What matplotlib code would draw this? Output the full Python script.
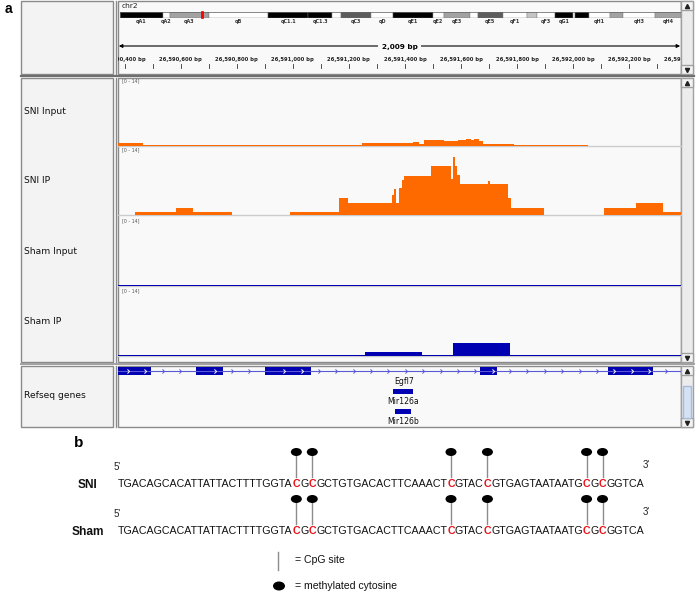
import numpy as np
import matplotlib
matplotlib.use('Agg')
import matplotlib.pyplot as plt
from matplotlib.patches import Rectangle, Ellipse
from matplotlib.path import Path
from matplotlib.font_manager import FontProperties, findfont, get_font
from matplotlib import _text_helpers

W, H = 696, 594

# ======================= DATA =======================
chrom_name = 'chr2'
view_start = 26590376
view_end = 26592385
data_range = (0, 14)

# cytoband ideogram of mouse chr2 (Mb)
chrom_length_mb = 182.1
locus_mb = 26.59
band_names = ['qA1', 'qA2', 'qA3', 'qB', 'qC1.1', 'qC1.3', 'qC2', 'qC3', 'qD', 'qE1',
              'qE2', 'qE3', 'qE4', 'qE5', 'qF1', 'qF2', 'qF3', 'qG1', 'qG2', 'qG3',
              'qH1', 'qH2', 'qH3', 'qH4']
band_starts = [0, 13.9, 16.2, 28.8, 48.2, 61.0, 68.9, 71.8, 81.5, 88.6,
               101.5, 105.1, 113.5, 116.1, 124.2, 132.0, 135.2, 141.3, 147.1, 147.8,
               152.3, 159.1, 163.3, 173.7]
band_stains = ['gpos100', 'gneg', 'gpos50', 'gneg', 'gpos100', 'gpos100', 'gneg', 'gpos75', 'gneg', 'gpos100',
               'gneg', 'gpos50', 'gneg', 'gpos75', 'gneg', 'gpos33', 'gneg', 'gpos100', 'gneg', 'gpos100',
               'gneg', 'gpos50', 'gneg', 'gpos50']
band_labeled = ['qA1', 'qA2', 'qA3', 'qB', 'qC1.1', 'qC1.3', 'qC3', 'qD', 'qE1', 'qE2', 'qE3',
                'qE5', 'qF1', 'qF3', 'qG1', 'qH1', 'qH3', 'qH4']

track_names = ['SNI Input', 'SNI IP', 'Sham Input', 'Sham IP']

sni_input_edges = [26590376, 26590464, 26590833, 26590865, 26591066, 26591170, 26591248,
                   26591338, 26591428, 26591449, 26591467, 26591539, 26591589, 26591617,
                   26591635, 26591646, 26591664, 26591678, 26591789, 26591843, 26592054, 26592385]
sni_input_values = [0.65, 0.18, 0.3, 0.18, 0.3, 0.22, 0.55, 0.6, 0.75, 0.4, 1.2, 1.1, 1.2,
                    1.5, 1.15, 1.35, 0.95, 0.4, 0.27, 0.18, 0.1]

sni_ip_edges = [26590376, 26590435, 26590582, 26590643, 26590783, 26590991, 26591166, 26591195,
                26591352, 26591360, 26591367, 26591377, 26591388, 26591395, 26591492, 26591564,
                26591571, 26591578, 26591585, 26591596, 26591696, 26591703, 26591768, 26591779,
                26591897, 26592112, 26592226, 26592319, 26592385]
sni_ip_values = [0, 0.55, 1.5, 0.55, 0, 0.55, 3.4, 2.4, 4.0, 5.2, 2.4, 5.5, 7.1, 7.9, 9.9,
                 7.3, 11.7, 10.0, 8.1, 6.2, 6.8, 6.2, 3.5, 1.5, 0, 1.5, 2.5, 0.7]

sham_input_edges = [26590376, 26592385]
sham_input_values = [0.14]

sham_ip_edges = [26590376, 26591256, 26591460, 26591571, 26591775, 26592385]
sham_ip_values = [0.14, 0.8, 0.14, 2.7, 0.14]

# RefSeq genes
egfl7_span = (26590200, 26592600)
egfl7_exon_starts = [26590300, 26590655, 26590899, 26591666, 26592124]
egfl7_exon_ends = [26590494, 26590749, 26591064, 26591730, 26592285]
mir_names = ['Mir126a', 'Mir126b']
mir_starts = [26591357, 26591365]
mir_ends = [26591429, 26591422]

# panel b
sequence = "TGACAGCACATTATTACTTTTGGTACGCGCTGTGACACTTCAAACTCGTACCGTGAGTAATAATGCGCGGTCA"
cpg_c_index = [25, 27, 46, 51, 65, 67]
groups = ['SNI', 'Sham']
methylated = {'SNI': [1, 1, 1, 1, 1, 1], 'Sham': [1, 1, 1, 1, 1, 1]}

# ======================= STYLE =======================
ORANGE = '#ff6a00'
BLUE = '#0000b2'
NAME_BG = '#f3f3f3'
DATA_BG = '#f9f9f9'
FRAME = '#8a8a8a'
stain_color = {'gpos100': '#000000', 'gpos75': '#5c5c5c', 'gpos50': '#a2a2a2',
               'gpos33': '#c4c4c4', 'gneg': '#ffffff'}

fig = plt.figure(figsize=(W / 100, H / 100), dpi=100)
fig.patch.set_facecolor('white')
bg = fig.add_axes([0, 0, 1, 1])
bg.set_xlim(0, W)
bg.set_ylim(H, 0)
bg.axis('off')


def px_axes(x0, y0, x1, y1):
    ax = fig.add_axes([x0 / W, 1 - y1 / H, (x1 - x0) / W, (y1 - y0) / H])
    ax.patch.set_alpha(0)
    ax.axis('off')
    return ax


def box(x0, y0, x1, y1, fc, ec=FRAME, lw=1, z=1):
    bg.add_patch(Rectangle((x0, y0), x1 - x0, y1 - y0, facecolor=fc,
                           edgecolor=ec, lw=lw, zorder=z))


# ---------- panel frames ----------
bg.text(8, 9, 'a', fontsize=10, fontweight='bold', ha='center', va='center',
        family='Liberation Sans')
rows = [(1, 74), (78, 362), (366, 427)]
for (y0, y1) in rows:
    box(21, y0, 113, y1, NAME_BG)
    box(118, y0, 681, y1, DATA_BG)
    box(681, y0, 693, y1, '#ececec', ec='#a0a0a0')
    bg.plot([115.5, 115.5], [y0, y1], color=FRAME, lw=1, zorder=2)
    # scroll buttons
    box(681, y0, 693, y0 + 9, '#f4f4f4', ec='#a0a0a0', z=2)
    box(681, y1 - 9, 693, y1, '#f4f4f4', ec='#a0a0a0', z=2)
    bg.plot([687], [y0 + 4.5], marker='^', ms=3, color='#222222', zorder=3)
    bg.plot([687], [y1 - 4.5], marker='v', ms=3, color='#222222', zorder=3)
bg.plot([21, 694], [76, 76], color='#6e6e6e', lw=1.6, zorder=2)
bg.plot([21, 694], [364, 364], color='#a0a0a0', lw=1.4, zorder=2)
box(683, 386, 691, 418, '#d3e2f5', ec='#a8bcd8', z=2)

# ---------- header: ideogram ----------
bg.text(122, 6, chrom_name, fontsize=5.4, va='center', ha='left', color='#222222')
ideo = px_axes(120, 11.5, 681, 17.5)
ideo.set_xlim(0, chrom_length_mb)
ideo.set_ylim(0, 1)
band_ends = band_starts[1:] + [chrom_length_mb]
for name, s, e, st in zip(band_names, band_starts, band_ends, band_stains):
    ideo.add_patch(Rectangle((s, 0), e - s, 1, facecolor=stain_color[st],
                             edgecolor='#777777', lw=0.3))
    if name in band_labeled:
        ideo.text((s + e) / 2, -0.62, name, transform=ideo.get_xaxis_transform(),
                  fontsize=3.5, fontweight='bold', ha='center', va='center',
                  color='#333333', clip_on=False)
ideo.add_patch(Rectangle((0, 0), chrom_length_mb, 1, facecolor='none',
                         edgecolor='#666666', lw=0.5))
ideo.add_patch(Rectangle((locus_mb - 0.35, -0.15), 0.7, 1.3, facecolor='#ff0000',
                         edgecolor='#dd0000', lw=0.5, clip_on=False, zorder=5))

# ---------- header: ruler ----------
ruler = px_axes(118, 40, 681, 72)
ruler.set_xlim(view_start, view_end)
ruler.set_ylim(32, 0)
span = view_end - view_start
ruler.annotate('', xy=(view_start + 3, 6), xytext=(view_end - 3, 6),
               arrowprops=dict(arrowstyle='<|-|>', color='black', lw=0.8,
                               mutation_scale=5, shrinkA=0, shrinkB=0))
ruler.text((view_start + view_end) / 2, 7, f'{span:,} bp', fontsize=5.2,
           fontweight='bold', ha='center', va='center',
           bbox=dict(facecolor=DATA_BG, edgecolor='none', pad=2.5))
first_tick = int(np.ceil(view_start / 100.0) * 100)
for pos in range(first_tick, view_end + 200, 100):
    if pos <= view_end:
        ruler.plot([pos, pos], [24, 28], color='#333333', lw=0.6)
    if pos % 200 == 0:
        ruler.text(pos, 20, f'{pos:,} bp', fontsize=3.8, fontweight='bold',
                   ha='center', va='center', color='#222222', clip_on=True)

# ---------- coverage tracks ----------
track_baselines = [146, 215, 286, 356]
TRACK_H = 69
track_data = [(sni_input_edges, sni_input_values, ORANGE),
              (sni_ip_edges, sni_ip_values, ORANGE),
              (sham_input_edges, sham_input_values, BLUE),
              (sham_ip_edges, sham_ip_values, BLUE)]
for name, base, (edges, vals, col) in zip(track_names, track_baselines, track_data):
    top = base - TRACK_H
    ax = px_axes(118, top, 681, base)
    ax.set_xlim(view_start, view_end)
    ax.set_ylim(data_range)
    ax.axhline(0, color='#cccccc', lw=1, zorder=0, clip_on=False)
    ax.fill_between(edges, list(vals) + [vals[-1]], step='post', color=col,
                    lw=0, zorder=2)
    bg.text(122, top + 4, f'[{data_range[0]} - {data_range[1]}]', fontsize=3.4,
            color='#555555', ha='left', va='center', zorder=5)
    bg.text(24, (top + base) / 2, name, fontsize=6.6, ha='left', va='center',
            color='#111111', zorder=5)

# ---------- RefSeq track ----------
bg.text(24, 396, 'Refseq genes', fontsize=6.6, ha='left', va='center',
        color='#111111', zorder=5)
ref = px_axes(118, 366, 681, 427)
ref.set_xlim(view_start, view_end)
ref.set_ylim(61, 0)
INTRON = '#5a5ad6'
ref.plot(egfl7_span, [5, 5], color=INTRON, lw=0.8)
ref.broken_barh([(s, e - s) for s, e in zip(egfl7_exon_starts, egfl7_exon_ends)],
                (1, 8), facecolors=BLUE, edgecolor='none')
chev = Path([(-0.5, 1), (0.5, 0), (-0.5, -1)], [Path.MOVETO, Path.LINETO, Path.LINETO])
grid = np.arange(view_start + 35, view_end, 62)
in_exon = np.zeros(len(grid), dtype=bool)
near_edge = np.zeros(len(grid), dtype=bool)
for s, e in zip(egfl7_exon_starts, egfl7_exon_ends):
    in_exon |= (grid > s) & (grid < e)
    near_edge |= (grid > s - 12) & (grid < s + 12) | (grid > e - 12) & (grid < e + 12)
ref.plot(grid[~in_exon & ~near_edge], np.full((~in_exon & ~near_edge).sum(), 5),
         ls='none', marker=chev, ms=3, mfc='none', mec=INTRON, mew=0.7)
ref.plot(grid[in_exon & ~near_edge], np.full((in_exon & ~near_edge).sum(), 5),
         ls='none', marker=chev, ms=3, mfc='none', mec='white', mew=0.7)
vis_center = (max(egfl7_span[0], view_start) + min(egfl7_span[1], view_end)) / 2
ref.text(vis_center + 15, 16, 'Egfl7', fontsize=5.6, ha='center', va='center',
         color='#111111')
for i, (nm, s, e) in enumerate(zip(mir_names, mir_starts, mir_ends)):
    yb = 23 + 20 * i
    ref.broken_barh([(s, e - s)], (yb, 4.5), facecolors=BLUE, edgecolor='none')
    ref.text((s + e) / 2, yb + 13, nm, fontsize=5.6, ha='center', va='center',
             color='#111111', clip_on=False)

# ======================= PANEL b =======================
SANS = 'Liberation Sans'
bg.text(79, 443, 'b', fontsize=11, fontweight='bold', ha='center', va='center',
        family=SANS)

x0, x1 = 118, 642
# pen positions of every character (with kerning), at a reference size
ft = get_font(findfont(FontProperties(family=SANS)))


def pen_positions(text, size_pt):
    ft.set_size(size_pt, 100)
    xs = []
    last = 0.0
    for item in _text_helpers.layout(text, ft):
        xs.append(item.x)
        g = ft.load_glyph(item.glyph_idx)
        last = item.x + g.linearHoriAdvance / 65536
    return np.array(xs), last


_, total10 = pen_positions(sequence, 10)
fs = 10 * (x1 - x0) / total10
pen, total = pen_positions(sequence, fs)
ft_b = get_font(findfont(FontProperties(family=SANS, weight='bold')))
ft_b.set_size(fs, 100)
c_adv = ft_b.load_char(ord('C')).linearHoriAdvance / 65536

row_y = {'SNI': 484, 'Sham': 531}
red_set = set(cpg_c_index)
for g in groups:
    y = row_y[g]
    i = 0
    n = len(sequence)
    while i < n:
        if i in red_set:
            bg.text(x0 + pen[i], y, sequence[i], fontsize=fs, family=SANS,
                    color='#e8141c', fontweight='bold', ha='left', va='center')
            i += 1
        else:
            j = i
            while j < n and j not in red_set:
                j += 1
            bg.text(x0 + pen[i], y, sequence[i:j], fontsize=fs, family=SANS,
                    color='#111111', ha='left', va='center')
            i = j
    bg.text(88, y + 1, g, fontsize=8.6, fontweight='bold', family=SANS,
            ha='center', va='center', color='#111111')
    bg.text(114, y - 17, "5'", fontsize=7, family=SANS, ha='left', va='center',
            color='#222222')
    bg.text(643, y - 19, "3'", fontsize=7, family=SANS, ha='left', va='center',
            color='#222222')
    for k, idx in enumerate(cpg_c_index):
        xc = x0 + pen[idx] + c_adv / 2
        bg.plot([xc, xc], [y - 32, y - 7], color='#8c8c8c', lw=1, zorder=2)
        if methylated[g][k]:
            bg.add_patch(Ellipse((xc, y - 32), 11, 8, facecolor='black',
                                 edgecolor='none', zorder=3))

# legend
bg.plot([278, 278], [552, 570], color='#8c8c8c', lw=1)
bg.text(295, 560, '= CpG site', fontsize=7.6, family=SANS, ha='left', va='center',
        color='#111111')
bg.add_patch(Ellipse((279, 586), 12, 9, facecolor='black', edgecolor='none'))
bg.text(295, 586, '= methylated cytosine', fontsize=7.6, family=SANS, ha='left',
        va='center', color='#111111')

fig.savefig('out.png', dpi=100, facecolor='white')
